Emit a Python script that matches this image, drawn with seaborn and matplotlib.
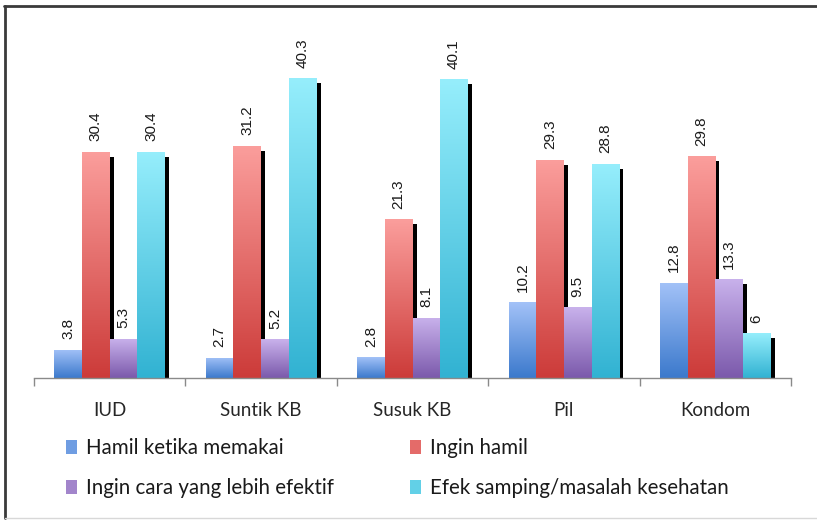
import numpy as np
import pandas as pd
import matplotlib
matplotlib.use("Agg")
import matplotlib.pyplot as plt
import matplotlib.patheffects as pe
from matplotlib.colors import LinearSegmentedColormap
from matplotlib.patches import Rectangle
import seaborn as sns

categories = ["IUD", "Suntik KB", "Susuk KB", "Pil", "Kondom"]
series = ["Hamil ketika memakai", "Ingin hamil",
          "Ingin cara yang lebih efektif", "Efek samping/masalah kesehatan"]
hamil_ketika_memakai = [3.8, 2.7, 2.8, 10.2, 12.8]
ingin_hamil = [30.4, 31.2, 21.3, 29.3, 29.8]
ingin_cara_efektif = [5.3, 5.2, 8.1, 9.5, 13.3]
efek_samping = [30.4, 40.3, 40.1, 28.8, 6.0]

top_colors = ["#a3c2f8", "#fb9e9c", "#c9b2ec", "#96eefc"]
bottom_colors = ["#3b79cc", "#cc3b39", "#7b59ab", "#31b2d2"]
mid_colors = ["#6f9de2", "#e46b69", "#a285cb", "#62d0e7"]

sns.set_theme(style="white")
plt.rcParams["font.family"] = ["Lato", "DejaVu Sans"]

rows = []
for s, vals in zip(series, [hamil_ketika_memakai, ingin_hamil,
                            ingin_cara_efektif, efek_samping]):
    for c, v in zip(categories, vals):
        rows.append({"Kategori": c, "Alasan": s, "Nilai": v})
df = pd.DataFrame(rows)

fig = plt.figure(figsize=(8.17, 5.2), dpi=100)
W, H = 817, 520
ax = fig.add_axes([34 / W, 1 - 378 / H, (791 - 34) / W, 335 / H])

sns.barplot(data=df, x="Kategori", y="Nilai", hue="Alasan", order=categories,
            hue_order=series, palette=mid_colors, width=0.73, gap=0,
            saturation=1, linewidth=0, legend=False, ax=ax, zorder=1)

shadow = [pe.SimplePatchShadow(offset=(3, -3.6), shadow_rgbFace="black", alpha=1.0),
          pe.Normal()]
grad = np.linspace(0, 1, 256).reshape(-1, 1)
for i, cont in enumerate(ax.containers):
    cmap = LinearSegmentedColormap.from_list(f"g{i}", [bottom_colors[i], top_colors[i]])
    for p in cont.patches:
        p.set_path_effects(shadow)
        x, y, w, h = p.get_x(), p.get_y(), p.get_width(), p.get_height()
        im = ax.imshow(grad, cmap=cmap, extent=(x, x + w, y, y + h), origin="lower",
                       aspect="auto", zorder=2, interpolation="bilinear")
        im.set_clip_path(p)
        lab = f"{h:g}"
        ax.annotate(lab, (x + w / 2, h), xytext=(0, 7.5), textcoords="offset points",
                    rotation=90, ha="center", va="bottom", fontsize=11,
                    family="Liberation Sans", color="#1a1a1a", zorder=5)

ax.set_xlim(-0.5, 4.5)
ax.set_ylim(0, 45)
ax.set_xlabel("")
ax.set_ylabel("")
ax.set_yticks([])
ax.set_xticks(np.arange(-0.5, 5.0, 1.0))
ax.set_xticklabels([])
ax.set_xticks(np.arange(5), minor=True)
ax.set_xticklabels(categories, minor=True, fontsize=13.5, color="#262626")
ax.tick_params(axis="x", which="major", length=5.5, width=1, color="#8a8a8a",
               direction="out", bottom=True)
ax.tick_params(axis="x", which="minor", length=0, pad=17, bottom=True)
for s in ["top", "right", "left"]:
    ax.spines[s].set_visible(False)
ax.spines["bottom"].set_color("#8a8a8a")
ax.spines["bottom"].set_linewidth(1)
ax.set_facecolor("none")

handles = [Rectangle((0, 0), 1, 1, facecolor=c, edgecolor="none") for c in mid_colors]
leg_kw = dict(loc="upper left", frameon=False, fontsize=14.8, handlelength=0.55,
              handleheight=0.65, handletextpad=0.4, labelspacing=0.98,
              borderpad=0, borderaxespad=0, labelcolor="#1a1a1a")
fig.legend([handles[0], handles[2]], [series[0], series[2]],
           bbox_to_anchor=(66 / W, 1 - 438 / H), **leg_kw)
fig.legend([handles[1], handles[3]], [series[1], series[3]],
           bbox_to_anchor=(410 / W, 1 - 438 / H), **leg_kw)

# outer chart frame
fig.add_artist(plt.Line2D([4 / W, 1], [1 - 5.5 / H, 1 - 5.5 / H],
                          transform=fig.transFigure, color="#3a3a3a", lw=2))
fig.add_artist(plt.Line2D([4.5 / W, 4.5 / W], [1 - 5.5 / H, 1 - 518 / H],
                          transform=fig.transFigure, color="#3a3a3a", lw=2))
fig.add_artist(plt.Line2D([4.5 / W, 1], [1 - 518 / H, 1 - 518 / H],
                          transform=fig.transFigure, color="#d8d8d8", lw=1))

fig.savefig("out.png", dpi=100)
